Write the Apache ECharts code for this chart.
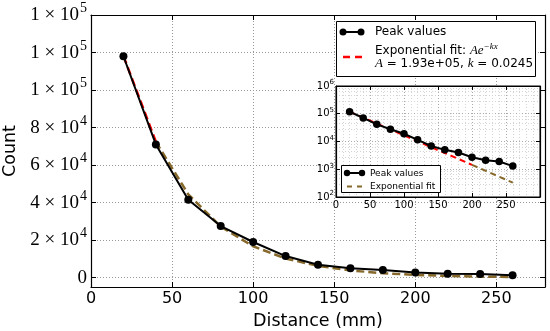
<!DOCTYPE html>
<html><head><meta charset="utf-8">
<script src="https://cdn.jsdelivr.net/npm/echarts@6/dist/echarts.min.js"></script>
<style>html,body{margin:0;padding:0;background:#fff}#c{width:550px;height:331px}</style>
</head><body><div id="c"></div>
<script>
const distances = [20, 40, 60, 80, 100, 120, 140, 160, 180, 200, 220, 240, 260];
const peakValues = [118000, 71000, 41500, 27500, 19000, 11500, 6900, 5000, 4000, 2700, 2100, 1900, 1300];
const fitValues = [118200, 72400, 44400, 27200, 16700, 10200, 6250, 3830, 2350, 1440, 880, 540, 330];
const xTickValues = [0, 50, 100, 150, 200, 250];
const yTickValues = [0, 20000, 40000, 60000, 80000, 100000, 120000, 140000];
const yTickMantissas = ['0', '2', '4', '6', '8', '1', '1', '1'];
const yTickExponents = ['', '4', '4', '4', '4', '5', '5', '5'];
const insetYTickValues = [100, 1000, 10000, 100000, 1000000];
const insetYTickExponents = ['2', '3', '4', '5', '6'];
const fitA = '1.93e+05';
const fitK = '0.0245';

const pairs = (xs, ys) => xs.map((x, i) => [x, ys[i]]);
const peakData = pairs(distances, peakValues);
const fitData = pairs(distances, fitValues);

const GRID_COLOR = '#9a9a9a';
const BROWN = '#86692b';
const chart = echarts.init(document.getElementById('c'), null, {renderer: 'canvas'});

function mainYLabel(v) {
  const i = yTickValues.indexOf(v);
  if (i < 0) return '';
  if (!yTickExponents[i]) return '{m|' + yTickMantissas[i] + '}';
  return '{m|' + yTickMantissas[i] + ' × 10}{e|' + yTickExponents[i] + '}';
}
function insetYLabel(v) {
  const i = insetYTickValues.findIndex(t => Math.abs(t - v) / t < 1e-6);
  if (i < 0) return '';
  return '{m|10}{e|' + insetYTickExponents[i] + '}';
}
const splitLine = {show: true, lineStyle: {color: GRID_COLOR, type: [1, 2], width: 1}};
const inTick = {show: true, inside: true, length: 5, lineStyle: {color: '#000', width: 1}};
const axisLine = {show: true, onZero: false, lineStyle: {color: '#000', width: 1.2}};
const Z = 100;

const option = {
  animation: false,
  backgroundColor: '#fff',
  grid: [
    {left: 91, top: 15, right: 5, bottom: 44, show: false, outerBoundsMode: 'none', containLabel: false},
    {left: 336, top: 86, right: 10, bottom: 134, show: true, backgroundColor: '#fff', borderColor: '#000', borderWidth: 1, z: 10, outerBoundsMode: 'none', containLabel: false}
  ],
  xAxis: [
    {type: 'value', gridIndex: 0, min: 0, max: 280, position: 'bottom',
     name: 'Distance (mm)', nameLocation: 'middle', nameGap: 25,
     nameTextStyle: {fontFamily: 'DejaVu Sans', fontSize: 17.5, color: '#000'},
     axisLine: axisLine, axisTick: Object.assign({}, inTick, {customValues: xTickValues}),
     axisLabel: {customValues: xTickValues, fontFamily: 'DejaVu Sans', fontSize: 16, color: '#000', margin: 4},
     splitLine: splitLine},
    {type: 'value', gridIndex: 0, min: 0, max: 280, position: 'top',
     axisLine: axisLine, axisTick: Object.assign({}, inTick, {customValues: xTickValues}),
     axisLabel: {show: false}, splitLine: {show: false}},
    {type: 'value', gridIndex: 1, min: 0, max: 300, position: 'bottom', interval: 50, z: 11,
     axisLine: axisLine, axisTick: Object.assign({}, inTick, {length: 4}),
     axisLabel: {fontFamily: 'DejaVu Sans', fontSize: 10, color: '#000', margin: 3, showMaxLabel: false},
     splitLine: {show: true, lineStyle: {color: '#aaa', type: [1, 2], width: 1}},
     minorTick: {show: false, splitNumber: 5},
     minorSplitLine: {show: true, lineStyle: {color: '#d4d4d4', type: [1, 2], width: 1}}},
    {type: 'value', gridIndex: 1, min: 0, max: 300, position: 'top', interval: 50, z: 11,
     axisLine: axisLine, axisTick: Object.assign({}, inTick, {length: 4}),
     axisLabel: {show: false}, splitLine: {show: false}}
  ],
  yAxis: [
    {type: 'value', gridIndex: 0, min: -5000, max: 140000, position: 'left',
     name: 'Count', nameLocation: 'middle', nameGap: 65, nameRotate: 90,
     nameTextStyle: {fontFamily: 'DejaVu Sans', fontSize: 17.5, color: '#000'},
     axisLine: axisLine, axisTick: Object.assign({}, inTick, {customValues: yTickValues}),
     axisLabel: {customValues: yTickValues, formatter: mainYLabel, margin: 4,
       rich: {m: {fontFamily: 'Liberation Serif', fontSize: 19, color: '#000'},
              e: {fontFamily: 'Liberation Serif', fontSize: 14, color: '#000', padding: [0, 0, 13, 1]}}},
     splitLine: splitLine},
    {type: 'value', gridIndex: 0, min: -5000, max: 140000, position: 'right',
     axisLine: axisLine, axisTick: Object.assign({}, inTick, {customValues: yTickValues}),
     axisLabel: {show: false}, splitLine: {show: false}},
    {type: 'log', gridIndex: 1, min: 100, max: 1000000, logBase: 10, position: 'left', z: 11,
     axisLine: axisLine, axisTick: Object.assign({}, inTick, {length: 4}),
     axisLabel: {formatter: insetYLabel, margin: 2,
       rich: {m: {fontFamily: 'DejaVu Sans', fontSize: 10, color: '#000'},
              e: {fontFamily: 'DejaVu Sans', fontSize: 7, color: '#000', padding: [0, 0, 7, 0]}}},
     splitLine: {show: true, lineStyle: {color: '#aaa', type: [1, 2], width: 1}},
     minorTick: {show: false, splitNumber: 5},
     minorSplitLine: {show: true, lineStyle: {color: '#d4d4d4', type: [1, 2], width: 1}}},
    {type: 'log', gridIndex: 1, min: 100, max: 1000000, logBase: 10, position: 'right', z: 11,
     axisLine: axisLine, axisTick: Object.assign({}, inTick, {length: 4}),
     axisLabel: {show: false}, splitLine: {show: false}}
  ],
  series: [
    {type: 'line', xAxisIndex: 0, yAxisIndex: 0, data: fitData.slice(1), symbol: 'none',
     lineStyle: {color: BROWN, width: 2.5, type: [8, 4]}, z: 3},
    {type: 'line', xAxisIndex: 0, yAxisIndex: 0, data: fitData.slice(0, 2), symbol: 'none',
     lineStyle: {color: '#ff0000', width: 2.5, type: [8, 4]}, z: 3},
    {type: 'line', xAxisIndex: 0, yAxisIndex: 0, data: peakData, symbol: 'circle', symbolSize: 8,
     itemStyle: {color: '#000'}, lineStyle: {color: '#000', width: 2}, z: 4},
    {type: 'line', xAxisIndex: 2, yAxisIndex: 2, data: fitData.slice(9), symbol: 'none',
     lineStyle: {color: BROWN, width: 2, type: [6, 4]}, z: 12},
    {type: 'line', xAxisIndex: 2, yAxisIndex: 2, data: fitData.slice(0, 10), symbol: 'none',
     lineStyle: {color: '#ff0000', width: 2, type: [6, 4]}, z: 12},
    {type: 'line', xAxisIndex: 2, yAxisIndex: 2, data: peakData, symbol: 'circle', symbolSize: 7.5,
     itemStyle: {color: '#000'}, lineStyle: {color: '#000', width: 2}, z: 13}
  ],
  graphic: [
    {type: 'rect', z: Z, shape: {x: 336.5, y: 21.5, width: 199, height: 55}, style: {fill: '#fff', stroke: '#000', lineWidth: 1}},
    {type: 'line', z: Z, shape: {x1: 343, y1: 32, x2: 361, y2: 32}, style: {stroke: '#000', lineWidth: 2}},
    {type: 'circle', z: Z, shape: {cx: 343, cy: 32, r: 3.5}, style: {fill: '#000'}},
    {type: 'circle', z: Z, shape: {cx: 361, cy: 32, r: 3.5}, style: {fill: '#000'}},
    {type: 'text', z: Z, x: 375, y: 32, style: {text: 'Peak values', fontFamily: 'DejaVu Sans', fontSize: 12, fill: '#000', verticalAlign: 'middle'}},
    {type: 'line', z: Z, shape: {x1: 343, y1: 57, x2: 362, y2: 57}, style: {stroke: '#ff0000', lineWidth: 2.5, lineDash: [7, 5]}},
    {type: 'text', z: Z, x: 375, y: 51, style: {text: '{t|Exponential fit: }{i|Ae}{s|−kx}', verticalAlign: 'middle',
      rich: {t: {fontFamily: 'DejaVu Sans', fontSize: 12, fill: '#000'},
             i: {fontFamily: 'Liberation Serif', fontStyle: 'italic', fontSize: 13, fill: '#000'},
             s: {fontFamily: 'Liberation Serif', fontStyle: 'italic', fontSize: 9, fill: '#000', padding: [0, 0, 8, 0]}}}},
    {type: 'text', z: Z, x: 375, y: 64, style: {text: '{i|A}{t| = ' + fitA + ', }{i|k}{t| = ' + fitK + '}', verticalAlign: 'middle',
      rich: {t: {fontFamily: 'DejaVu Sans', fontSize: 12, fill: '#000'},
             i: {fontFamily: 'Liberation Serif', fontStyle: 'italic', fontSize: 13, fill: '#000'}}}},
    {type: 'rect', z: Z, shape: {x: 341.5, y: 165.5, width: 99, height: 27}, style: {fill: '#fff', stroke: '#000', lineWidth: 1}},
    {type: 'line', z: Z, shape: {x1: 347, y1: 173, x2: 362, y2: 173}, style: {stroke: '#000', lineWidth: 2}},
    {type: 'circle', z: Z, shape: {cx: 347, cy: 173, r: 3.2}, style: {fill: '#000'}},
    {type: 'circle', z: Z, shape: {cx: 362, cy: 173, r: 3.2}, style: {fill: '#000'}},
    {type: 'text', z: Z, x: 370, y: 173.5, style: {text: 'Peak values', fontFamily: 'DejaVu Sans', fontSize: 9, fill: '#000', verticalAlign: 'middle'}},
    {type: 'line', z: Z, shape: {x1: 347, y1: 186.5, x2: 362, y2: 186.5}, style: {stroke: BROWN, lineWidth: 2, lineDash: [5, 5]}},
    {type: 'text', z: Z, x: 370, y: 187, style: {text: 'Exponential fit', fontFamily: 'DejaVu Sans', fontSize: 9, fill: '#000', verticalAlign: 'middle'}}
  ]
};
chart.setOption(option);
</script></body></html>
